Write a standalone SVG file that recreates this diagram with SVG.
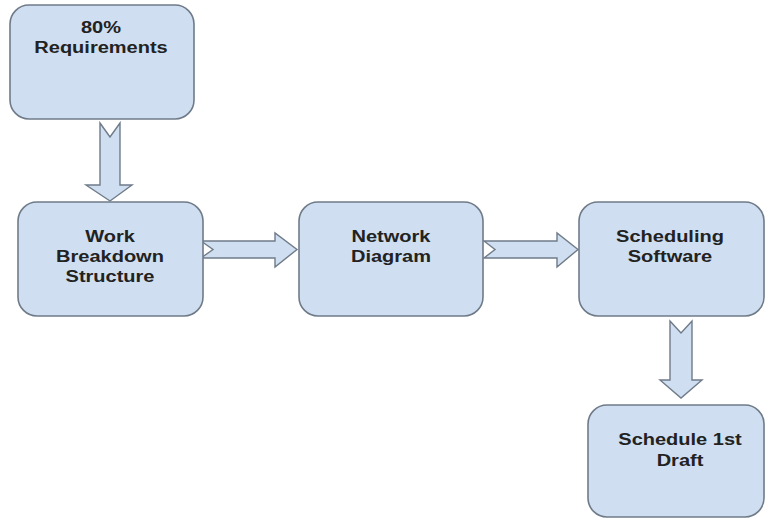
<svg xmlns="http://www.w3.org/2000/svg" width="767" height="519" viewBox="0 0 767 519">
  <style>
    .box { fill: #cfdef0; stroke: #6f7b89; stroke-width: 1.6; }
    .arrow { fill: #cfdef0; stroke: #6f7b89; stroke-width: 1.4; stroke-linejoin: miter; }
    .label { font-family: "Liberation Sans", Arial, sans-serif; font-weight: bold; font-size: 16px; fill: #222222; text-anchor: middle; }
  </style>
  <rect width="767" height="519" fill="#ffffff"/>

  <!-- block arrows between steps -->
  <g id="connectors">
    <!-- requirements -> WBS (down) -->
    <path class="arrow" d="M100,123 L110,137 L120,123 L120,185 L132,185 L110,201 L86,185 L100,185 Z"/>
    <!-- WBS -> network diagram -->
    <path class="arrow" d="M201,241 L213,249.5 L201,258 L275,258 L275,267 L297,249.5 L275,233 L275,241 Z"/>
    <!-- network diagram -> scheduling software -->
    <path class="arrow" d="M484,241 L495,249.5 L484,258 L557,258 L557,267 L578,249.5 L557,233 L557,241 Z"/>
    <!-- scheduling software -> schedule draft (down) -->
    <path class="arrow" d="M670,321 L681,333 L692,321 L692,380 L702,380 L681,398 L660,380 L670,380 Z"/>
  </g>

  <g id="requirements">
    <rect class="box" x="10" y="5" width="184" height="114" rx="19"/>
    <text class="label" transform="translate(101,0) scale(1.25,1)"><tspan x="0" y="33">80%</tspan><tspan x="0" y="53">Requirements</tspan></text>
  </g>

  <g id="wbs">
    <rect class="box" x="18" y="202" width="185" height="114" rx="19"/>
    <text class="label" transform="translate(110,0) scale(1.25,1)"><tspan x="0" y="242">Work</tspan><tspan x="0" y="262">Breakdown</tspan><tspan x="0" y="282">Structure</tspan></text>
  </g>

  <g id="network">
    <rect class="box" x="299" y="202" width="184" height="114" rx="19"/>
    <text class="label" transform="translate(391,0) scale(1.25,1)"><tspan x="0" y="242">Network</tspan><tspan x="0" y="262">Diagram</tspan></text>
  </g>

  <g id="scheduling">
    <rect class="box" x="579" y="202" width="185" height="114" rx="19"/>
    <text class="label" transform="translate(670,0) scale(1.25,1)"><tspan x="0" y="242">Scheduling</tspan><tspan x="0" y="262">Software</tspan></text>
  </g>

  <g id="draft">
    <rect class="box" x="588" y="405" width="176" height="112" rx="19"/>
    <text class="label" transform="translate(680,0) scale(1.25,1)"><tspan x="0" y="445">Schedule 1st</tspan><tspan x="0" y="466">Draft</tspan></text>
  </g>
</svg>
